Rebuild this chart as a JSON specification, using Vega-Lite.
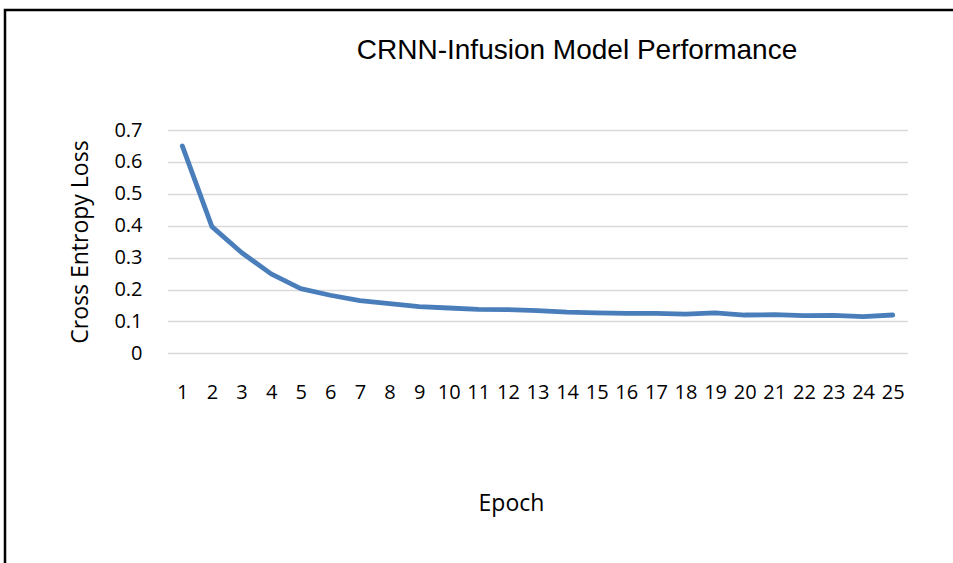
{
  "$schema": "https://vega.github.io/schema/vega-lite/v6.json",
  "autosize": "none",
  "width": 960,
  "height": 560,
  "padding": {"left": 5, "top": 10, "right": 0, "bottom": 0},
  "background": "white",
  "title": {
    "text": "CRNN-Infusion Model Performance",
    "font": "Liberation Sans",
    "fontSize": 28,
    "fontWeight": "normal",
    "color": "#000000",
    "anchor": "middle",
    "frame": "group",
    "baseline": "alphabetic",
    "offset": -47,
    "dx": 92,
    "dy": 30
  },
  "config": {
    "view": {"stroke": "#000000", "strokeWidth": 2.5}
  },
  "data": {
    "values": [
      {"Epoch": 1, "Loss": 0.650},
      {"Epoch": 2, "Loss": 0.397},
      {"Epoch": 3, "Loss": 0.316},
      {"Epoch": 4, "Loss": 0.249},
      {"Epoch": 5, "Loss": 0.203},
      {"Epoch": 6, "Loss": 0.182},
      {"Epoch": 7, "Loss": 0.165},
      {"Epoch": 8, "Loss": 0.156},
      {"Epoch": 9, "Loss": 0.146},
      {"Epoch": 10, "Loss": 0.142},
      {"Epoch": 11, "Loss": 0.138},
      {"Epoch": 12, "Loss": 0.137},
      {"Epoch": 13, "Loss": 0.134},
      {"Epoch": 14, "Loss": 0.129},
      {"Epoch": 15, "Loss": 0.127},
      {"Epoch": 16, "Loss": 0.125},
      {"Epoch": 17, "Loss": 0.125},
      {"Epoch": 18, "Loss": 0.123},
      {"Epoch": 19, "Loss": 0.127},
      {"Epoch": 20, "Loss": 0.120},
      {"Epoch": 21, "Loss": 0.121},
      {"Epoch": 22, "Loss": 0.118},
      {"Epoch": 23, "Loss": 0.119},
      {"Epoch": 24, "Loss": 0.115},
      {"Epoch": 25, "Loss": 0.120}
    ]
  },
  "mark": {"type": "line", "color": "#4A7EBB", "strokeWidth": 4.8, "strokeCap": "round", "strokeJoin": "round"},
  "encoding": {
    "x": {
      "field": "Epoch",
      "type": "quantitative",
      "scale": {"domain": [0.5, 25.5], "range": [162.5, 902.5], "nice": false, "zero": false},
      "axis": {
        "title": "Epoch",
        "values": [1,2,3,4,5,6,7,8,9,10,11,12,13,14,15,16,17,18,19,20,21,22,23,24,25],
        "format": "d",
        "orient": "bottom",
        "offset": -216.7,
        "grid": false,
        "domain": false,
        "ticks": false,
        "tickSize": 0,
        "labelFont": "Open Sans",
        "labelFontSize": 20,
        "labelColor": "#000000",
        "labelBaseline": "middle",
        "labelPadding": 39,
        "labelFlush": false,
        "labelOverlap": false,
        "titleFont": "Open Sans",
        "titleFontSize": 23,
        "titleFontWeight": "normal",
        "titleColor": "#000000",
        "titleX": 506,
        "titleY": 150,
        "titleBaseline": "middle",
        "titleAnchor": "middle"
      }
    },
    "y": {
      "field": "Loss",
      "type": "quantitative",
      "scale": {"domain": [0, 0.7], "range": [343.3, 120], "nice": false, "zero": true},
      "axis": {
        "title": "Cross Entropy Loss",
        "values": [0, 0.1, 0.2, 0.3, 0.4, 0.5, 0.6, 0.7],
        "format": ".1~f",
        "orient": "left",
        "offset": -162.5,
        "grid": true,
        "gridColor": "#D9D9D9",
        "gridWidth": 1.3,
        "gridOpacity": 1,
        "domain": false,
        "ticks": false,
        "tickSize": 0,
        "labelFont": "Open Sans",
        "labelFontSize": 20,
        "labelColor": "#000000",
        "labelPadding": 25.5,
        "labelFlush": false,
        "labelOverlap": false,
        "titleFont": "Open Sans",
        "titleFontSize": 23,
        "titleFontWeight": "normal",
        "titleColor": "#000000",
        "titleAngle": -90,
        "titleX": -87.5,
        "titleY": 231.5,
        "titleBaseline": "middle",
        "titleAnchor": "middle"
      }
    }
  }
}
